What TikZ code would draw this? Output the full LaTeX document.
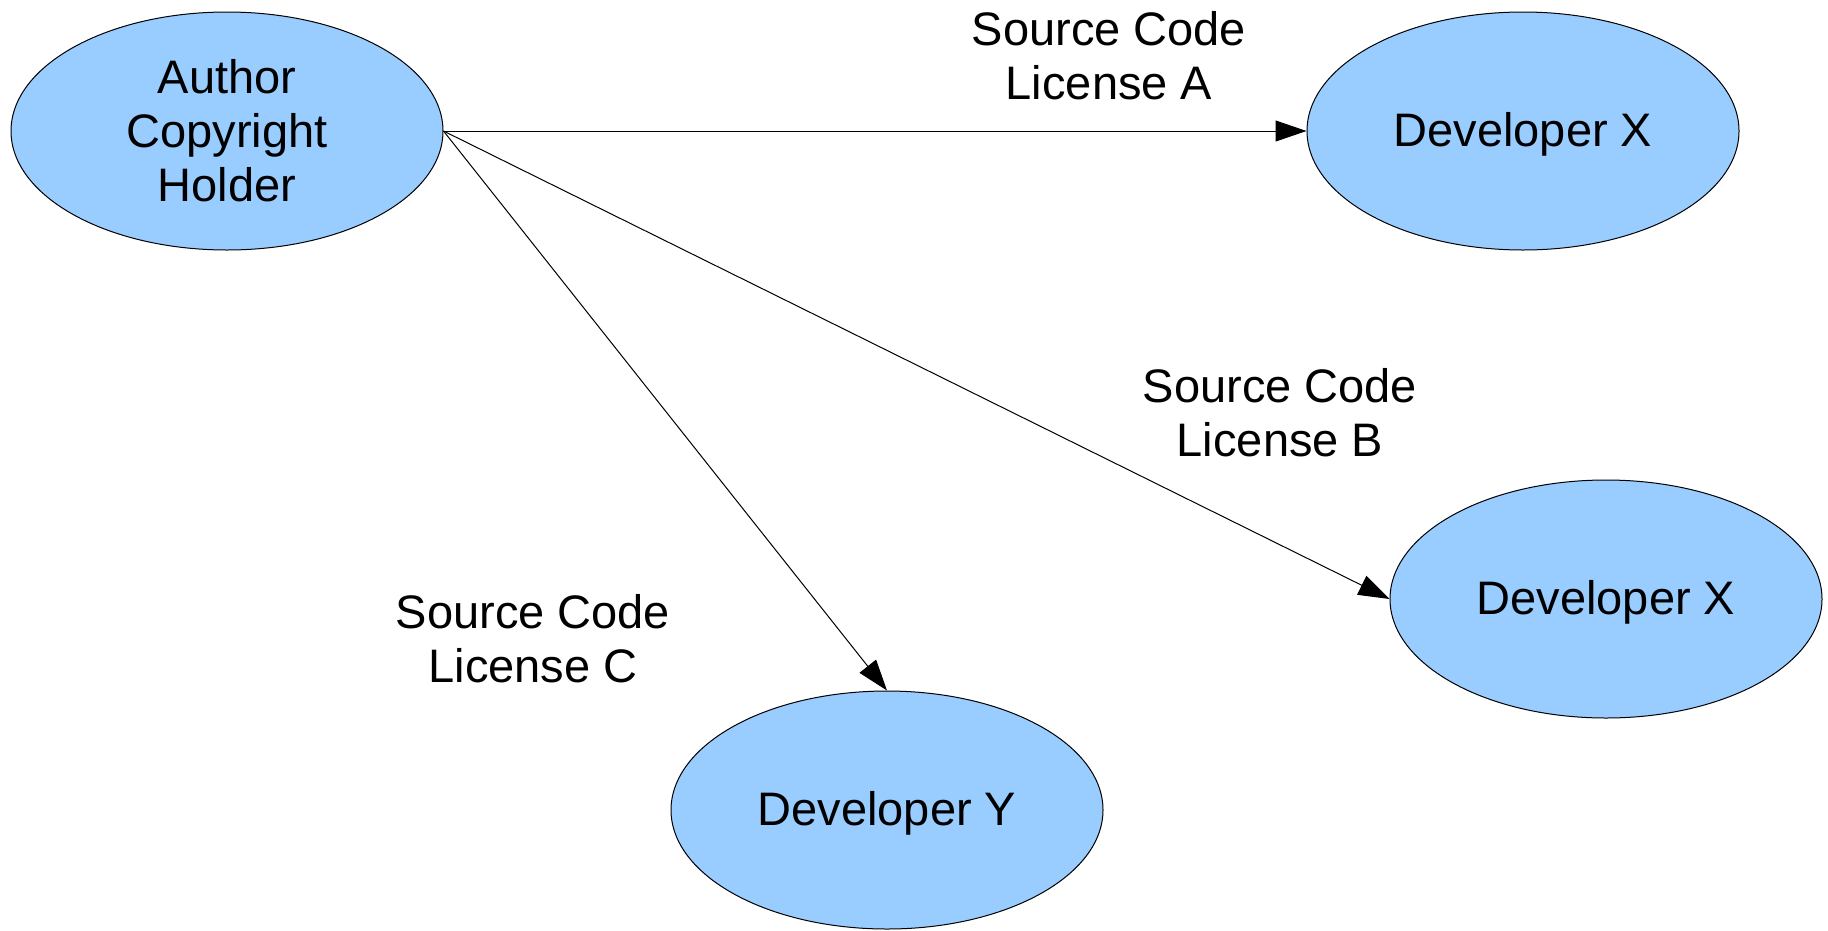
\documentclass[tikz,border=0pt]{standalone}
\usepackage{fontspec}
\setmainfont{Liberation Sans}
\usetikzlibrary{shapes.geometric,arrows.meta}
\definecolor{nodeblue}{HTML}{99CCFF}
\newcommand{\lowertext}[1]{\raisebox{-3pt}[\height][\depth]{#1}}
\begin{document}
\begin{tikzpicture}[x=1pt,y=-1pt,
  party/.style={ellipse,draw=black,line width=1pt,fill=nodeblue,minimum width=432pt,minimum height=238pt,inner sep=0pt,align=center,font=\fontsize{47}{54}\selectfont},
  lic/.style={align=center,font=\fontsize{47}{54}\selectfont,inner sep=0pt},
  flow/.style={draw=black,line width=1pt,-{Triangle[length=31pt,width=21pt]}}]
\useasboundingbox (0,0) rectangle (1828,930);
\node[party] (auth) at (227,131) {Author\\Copyright\\Holder};
\node[party] (dx1) at (1523,131) {\lowertext{Developer X}};
\node[party] (dx2) at (1606,599) {\lowertext{Developer X}};
\node[party] (dy) at (887,810) {\lowertext{Developer Y}};
\node[lic] (la) at (1109,56) {Source Code\\License A};
\node[lic] (lb) at (1280,413) {Source Code\\License B};
\node[lic] (lc) at (533,639) {Source Code\\License C};
\draw[flow] (auth.east) -- (dx1.west);
\draw[flow] (auth.east) -- (dx2.west);
\draw[flow] (auth.east) -- (dy.north);
\end{tikzpicture}
\end{document}
